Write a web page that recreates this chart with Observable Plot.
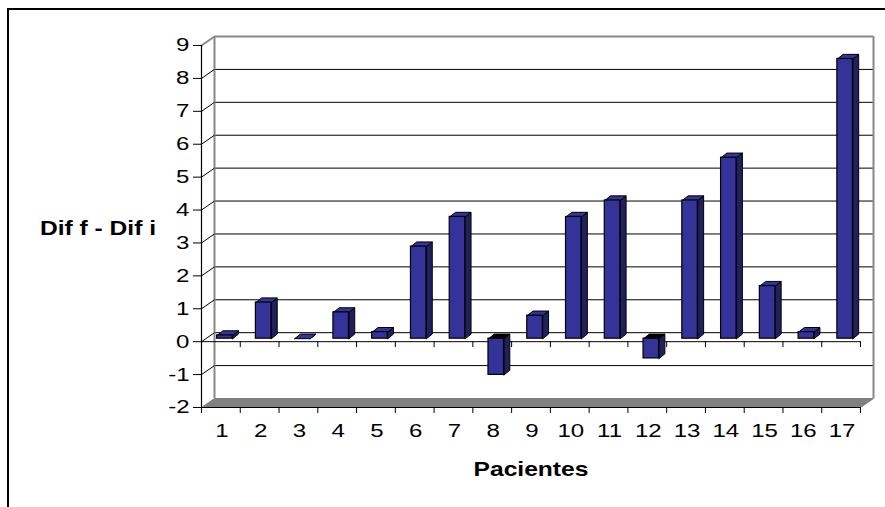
<!DOCTYPE html>
<html>
<head>
<meta charset="utf-8">
<script src="https://cdn.jsdelivr.net/npm/d3@7"></script>
<script src="https://cdn.jsdelivr.net/npm/@observablehq/plot@0.6"></script>
<style>
  html, body { margin: 0; padding: 0; background: #fff; }
  #wrap { position: relative; width: 885px; height: 507px; overflow: hidden; font-family: Arial, "Liberation Sans", sans-serif; }
  #border { position: absolute; left: 7px; top: 8px; width: 1000px; height: 1000px; border-top: 2px solid #000; border-left: 2px solid #000; }
  .ttl { position: absolute; font-weight: bold; font-size: 20.5px; white-space: nowrap; transform: translate(-50%, -50%) scaleX(1.2); }
  #chart { position: absolute; left: 0; top: 0; }
  #chart svg text { font-size: 18.5px !important; font-family: Arial, "Liberation Sans", sans-serif !important; fill: #000; }
</style>
</head>
<body>
<div id="wrap">
  <div id="border"></div>
  <div id="chart"></div>
  <div class="ttl" id="ytitle" style="left:98px; top:228px;">Dif f - Dif i</div>
  <div class="ttl" id="xtitle" style="left:531px; top:469px;">Pacientes</div>
</div>
<script>
// ---- data ----
const pacientes = [1, 2, 3, 4, 5, 6, 7, 8, 9, 10, 11, 12, 13, 14, 15, 16, 17];
const difValues = [0.1, 1.1, 0, 0.8, 0.2, 2.8, 3.7, -1.1, 0.7, 3.7, 4.2, -0.6, 4.2, 5.5, 1.6, 0.2, 8.5];
const yTicks = [-2, -1, 0, 1, 2, 3, 4, 5, 6, 7, 8, 9];

// ---- style constants (3D look) ----
const WALL_X = 0.335, WALL_Y = 0.2735;   // depth of back wall (data units)
const BAR_HALF = 0.2;                     // half bar width (category units)
const BAR_DX = 0.15, BAR_DY = 0.14;       // bar depth (data units)
const FRONT_DX = 4, FRONT_DY = -3;        // bar plane offset (px)
const xMin = 0.5, xMax = pacientes.length + 0.5;
const yMin = yTicks[0], yMax = yTicks[yTicks.length - 1];
const bounds = d3.range(xMin, xMax + 0.01, 1);

const bars = pacientes.map((p, i) => ({p, v: difValues[i]}));

const floor = [
  {x: xMin, y: yMin}, {x: xMax, y: yMin},
  {x: xMax + WALL_X, y: yMin + WALL_Y}, {x: xMin + WALL_X, y: yMin + WALL_Y},
  {x: xMin, y: yMin}
];

const tops = [], sides = [];
bars.forEach(b => {
  const x1 = b.p - BAR_HALF, x2 = b.p + BAR_HALF;
  const hi = Math.max(b.v, 0), lo = Math.min(b.v, 0);
  const neg = b.v < 0;
  [[x1, hi], [x2, hi], [x2 + BAR_DX, hi + BAR_DY], [x1 + BAR_DX, hi + BAR_DY], [x1, hi]]
    .forEach(([x, y]) => tops.push({id: b.p, x, y, neg}));
  [[x2, lo], [x2, hi], [x2 + BAR_DX, hi + BAR_DY], [x2 + BAR_DX, lo + BAR_DY], [x2, lo]]
    .forEach(([x, y]) => sides.push({id: b.p, x, y}));
});

const chart = Plot.plot({
  width: 885,
  height: 507,
  marginLeft: 201,
  marginRight: 25,
  marginTop: 45,
  marginBottom: 100,
  x: {domain: [xMin, xMax], axis: null},
  y: {domain: [yMin, yMax], axis: null},
  style: {fontFamily: "Arial, 'Liberation Sans', sans-serif", fontSize: "18px", background: "transparent", overflow: "visible", color: "#000"},
  marks: [
    // floor
    Plot.line(floor, {x: "x", y: "y", fill: "#808080", stroke: "#808080", strokeWidth: 1}),
    // back wall grid
    Plot.ruleY(yTicks.filter(t => t > yMin && t < yMax), {x1: xMin, x2: xMax, dx: 13, dy: -9, stroke: "#000", strokeWidth: 1}),
    Plot.ruleY([yMax], {x1: xMin, x2: xMax, dx: 13, dy: -9, stroke: "#888", strokeWidth: 2}),
    Plot.ruleX([xMin, xMax], {y1: yMin, y2: yMax, dx: 13, dy: -9, stroke: "#888", strokeWidth: 2}),
    // side wall connectors
    Plot.link(yTicks.filter(t => t > yMin && t < yMax), {x1: xMin, y1: d => d, x2: xMin + WALL_X, y2: d => d + WALL_Y, stroke: "#000", strokeWidth: 1}),
    Plot.link([yMax], {x1: xMin, y1: d => d, x2: xMin + WALL_X, y2: d => d + WALL_Y, stroke: "#888", strokeWidth: 2}),
    // zero category line with ticks
    Plot.ruleY([0], {x1: xMin, x2: xMax, stroke: "#000", strokeWidth: 1}),
    Plot.ruleX(bounds, {y1: 0, y2: -0.18, stroke: "#000", strokeWidth: 1}),
    // bars
    Plot.line(sides, {x: "x", y: "y", z: "id", fill: "#20205e", stroke: "#000", strokeWidth: 1, dx: FRONT_DX, dy: FRONT_DY}),
    Plot.line(tops.filter(d => !d.neg), {x: "x", y: "y", z: "id", fill: "#333399", stroke: "#000", strokeWidth: 1, dx: FRONT_DX, dy: FRONT_DY}),
    Plot.line(tops.filter(d => d.neg), {x: "x", y: "y", z: "id", fill: "#000000", stroke: "#000", strokeWidth: 1, dx: FRONT_DX, dy: FRONT_DY}),
    Plot.rect(bars, {x1: d => d.p - BAR_HALF, x2: d => d.p + BAR_HALF, y1: 0, y2: "v", fill: "#333399", stroke: "#000", strokeWidth: 1.2, dx: FRONT_DX, dy: FRONT_DY}),
    // front axes
    Plot.ruleX([xMin], {y1: yMin, y2: yMax, stroke: "#000", strokeWidth: 1.2}),
    Plot.ruleY([yMin], {x1: xMin, x2: xMax, stroke: "#000", strokeWidth: 1.2}),
    Plot.axisY(yTicks, {anchor: "left", label: null, tickSize: 8, tickPadding: 4, stroke: "#000", tickFormat: d => String(d)}),
    Plot.axisX(bounds, {anchor: "bottom", label: null, tickSize: 6, tickFormat: () => "", stroke: "#000"}),
    Plot.axisX(pacientes, {anchor: "bottom", label: null, tickSize: 0, tickPadding: 16, tickFormat: d => String(d), dx: 1})
  ]
});
document.getElementById("chart").appendChild(chart);

// widen tick-label glyphs horizontally (the reference text is stretched)
chart.querySelectorAll("text").forEach(t => {
  const tr = t.getAttribute("transform") || "";
  t.setAttribute("transform", `${tr} scale(1.3,1)`);
});
</script>
</body>
</html>
